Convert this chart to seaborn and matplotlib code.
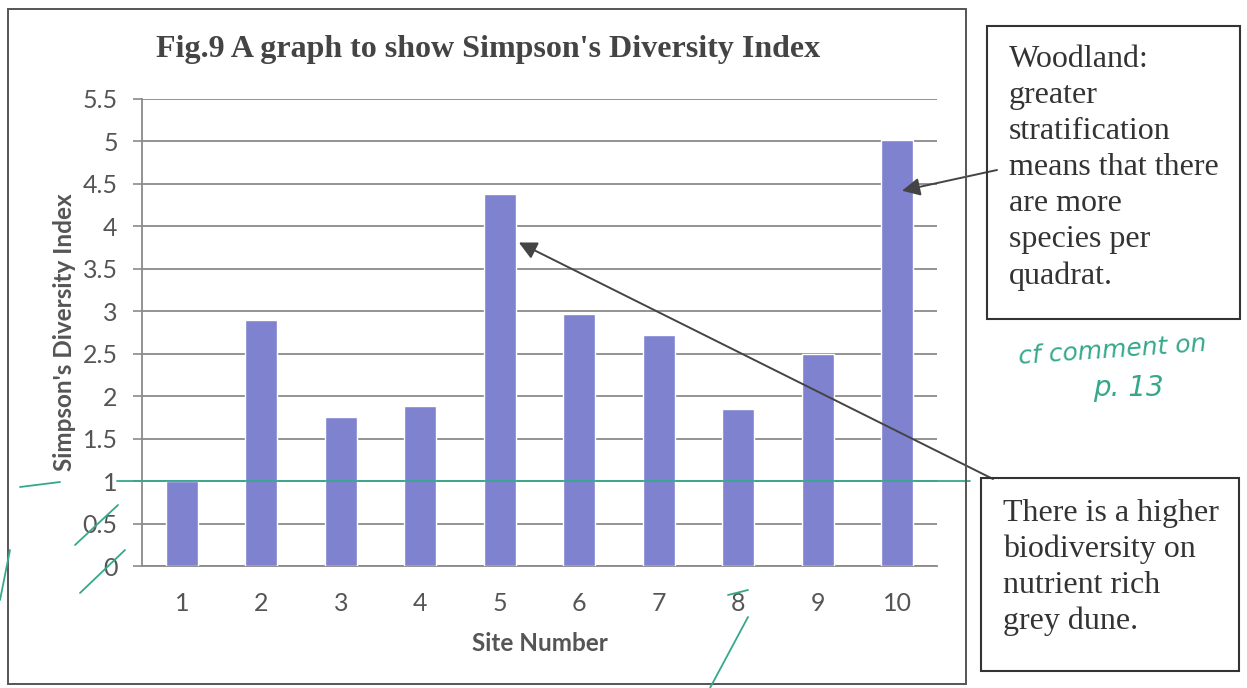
import matplotlib
matplotlib.use("Agg")
import matplotlib.pyplot as plt
import seaborn as sns
import pandas as pd
from matplotlib.patches import Rectangle
from matplotlib.lines import Line2D

# ---- data ----
sites = ["1", "2", "3", "4", "5", "6", "7", "8", "9", "10"]
diversity = [1.0, 2.9, 1.75, 1.88, 4.38, 2.97, 2.72, 1.85, 2.5, 5.02]
ytick_values = [0, 0.5, 1, 1.5, 2, 2.5, 3, 3.5, 4, 4.5, 5, 5.5]
ytick_labels = ["0", "0.5", "1", "1.5", "2", "2.5", "3", "3.5", "4", "4.5", "5", "5.5"]
title = "Fig.9 A graph to show Simpson's Diversity Index"
xlabel = "Site Number"
ylabel = "Simpson's Diversity Index"
note_woodland = "Woodland:\ngreater\nstratification\nmeans that there\nare more\nspecies per\nquadrat."
note_dune = "There is a higher\nbiodiversity on\nnutrient rich\ngrey dune."
handwritten_1 = "cf comment on"
handwritten_2 = "p. 13"

sns.set_theme(style="white")
plt.rcParams["font.family"] = ["Lato", "DejaVu Sans"]

W, H = 1247, 688
fig = plt.figure(figsize=(W / 100, H / 100), dpi=100)
fig.patch.set_facecolor("white")

def fx(px):
    return px / W

def fy(py):
    return 1 - py / H

ax = fig.add_axes([fx(142), fy(566), fx(937) - fx(142), fy(99) - fy(566)])

df = pd.DataFrame({"site": sites, "value": diversity})
sns.barplot(data=df, x="site", y="value", color="#7E82CF", saturation=1,
            width=0.4, ax=ax, zorder=3)

ax.set_xlim(-0.5, len(sites) - 0.5)
ax.set_ylim(0, 5.5)
ax.set_yticks(ytick_values)
ax.set_yticklabels(ytick_labels)
ax.yaxis.grid(True, color="#8a8a8a", lw=1.3, zorder=0)
ax.xaxis.grid(False)
for s in ["top", "right"]:
    ax.spines[s].set_visible(False)
ax.spines["left"].set_color("#8a8a8a")
ax.spines["left"].set_linewidth(1.3)
ax.spines["bottom"].set_color("#8a8a8a")
ax.spines["bottom"].set_linewidth(1.3)
ax.tick_params(axis="y", direction="out", length=6.5, width=1.2, color="#8a8a8a",
               pad=11, labelsize=18, labelcolor="#555555", left=True)
ax.tick_params(axis="x", length=0, pad=19, labelsize=18, labelcolor="#555555")

ax.set_xlabel(xlabel, fontsize=17.5, fontweight="bold", color="#555555")
ax.set_ylabel(ylabel, fontsize=17.5, fontweight="bold", color="#555555")
ax.xaxis.set_label_coords(0.5, (566 - 632) / 467)
ax.yaxis.set_label_coords((76 - 142) / 795, 0.5)

fig.text(fx(488), fy(49), title, ha="center", va="center", fontsize=23,
         fontweight="bold", color="#444444", family=["Liberation Serif", "DejaVu Serif"])

# chart outer border
fig.patches.append(Rectangle((fx(8), fy(684)), fx(966) - fx(8), fy(9) - fy(684),
                             transform=fig.transFigure, fill=False,
                             edgecolor="#555555", lw=1.4))

# annotation boxes
fig.patches.append(Rectangle((fx(987), fy(319)), fx(1240) - fx(987), fy(26) - fy(319),
                             transform=fig.transFigure, fill=False,
                             edgecolor="#333333", lw=1.5))
fig.patches.append(Rectangle((fx(981), fy(671)), fx(1239) - fx(981), fy(478) - fy(671),
                             transform=fig.transFigure, fill=False,
                             edgecolor="#333333", lw=1.5))
serif = ["Liberation Serif", "DejaVu Serif"]
fig.text(fx(1009), fy(45), note_woodland, ha="left", va="top", fontsize=23,
         color="#333333", family=serif, linespacing=1.32)
fig.text(fx(1003), fy(499), note_dune, ha="left", va="top", fontsize=23,
         color="#333333", family=serif, linespacing=1.3)

# arrows to bars
arrowprops = dict(arrowstyle="-|>,head_length=0.9,head_width=0.45", color="#444444",
                  lw=1.4, shrinkA=0, shrinkB=0)
ax.annotate("", xy=(9.06, 4.42), xycoords="data",
            xytext=(fx(997), fy(170)), textcoords="figure fraction",
            arrowprops=arrowprops, annotation_clip=False)
ax.annotate("", xy=(4.24, 3.81), xycoords="data",
            xytext=(fx(993), fy(479)), textcoords="figure fraction",
            arrowprops=arrowprops, annotation_clip=False)

# handwritten marks (green)
green = "#35A88C"
ax.axhline(1.0, xmin=(117 - 142) / 795, xmax=(970 - 142) / 795, color=green,
           lw=1.3, clip_on=False, zorder=4)
fig.text(fx(1018), fy(350), handwritten_1, ha="left", va="center", fontsize=18,
         color=green, style="italic", family=["DejaVu Sans"], rotation=4)
fig.text(fx(1093), fy(388), handwritten_2, ha="left", va="center", fontsize=20,
         color=green, style="italic", family=["DejaVu Sans"])
for (x0, y0, x1, y1) in [(75, 545, 118, 505), (80, 593, 125, 550),
                         (0, 600, 10, 550), (710, 688, 748, 617),
                         (728, 595, 748, 590), (20, 487, 60, 482)]:
    fig.lines.append(Line2D([fx(x0), fx(x1)], [fy(y0), fy(y1)],
                            transform=fig.transFigure, color=green, lw=1.3))

fig.savefig("out.png", dpi=100)
